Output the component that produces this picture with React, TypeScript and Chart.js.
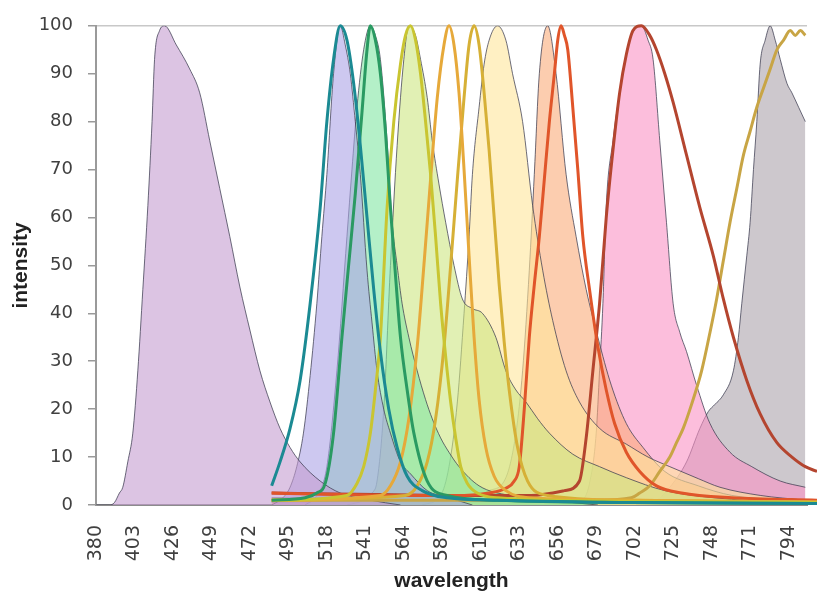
import React, { useEffect, useRef } from "react";
import { Chart, registerables } from "chart.js";
Chart.register(...registerables);

// ---- axis ticks ----
const xTickLabels = [380, 403, 426, 449, 472, 495, 518, 541, 564, 587, 610, 633, 656, 679, 702, 725, 748, 771, 794];
const yTickValues = [0, 10, 20, 30, 40, 50, 60, 70, 80, 90, 100];

// ---- excitation spectra (thick lines) ----
const tealWl = [485, 490, 496, 502, 508, 514, 518, 522, 526, 530, 534, 538, 542, 546, 550, 555, 560, 566, 575, 590, 620, 700, 811];
const tealVal = [4, 9, 16, 26, 42, 62, 80, 93, 100, 97, 88, 75, 60, 45, 32, 20, 12, 6, 3, 1.5, 1, 0.5, 0.3];

const greenWl = [485, 505, 512, 517, 522, 527, 531, 535, 539, 542, 544, 547, 550, 553, 556, 559, 562, 566, 570, 578, 590, 620, 700, 811];
const greenVal = [1, 1.5, 2.5, 4.5, 15, 35, 50, 65, 82, 95, 100, 97, 90, 78, 62, 48, 35, 24, 15, 5, 2, 1, 0.5, 0.3];

const yellowWl = [485, 530, 536, 540, 544, 547, 550, 554, 558, 562, 565, 568, 571, 574, 577, 580, 583, 586, 589, 592, 595, 598, 602, 608, 620, 700, 811];
const yellowVal = [1, 2, 4.5, 8, 15, 24, 35, 62, 80, 92, 98, 100, 97, 90, 80, 69, 56, 42, 31, 21.5, 14, 8, 4.5, 2.5, 1.5, 0.8, 0.5];

const amberWl = [485, 550, 556, 562, 567, 572, 576, 580, 584, 588, 591, 594, 597, 600, 603, 606, 609, 613, 618, 625, 640, 700, 811];
const amberVal = [1, 2, 4, 9, 18, 33, 50, 68, 85, 96, 100, 96, 86, 70, 52, 35, 22, 12, 6, 3, 1.5, 1, 0.6];

const goldWl = [485, 565, 572, 578, 583, 588, 592, 596, 600, 603, 606, 609, 612, 615, 618, 621, 624, 627, 632, 638, 650, 700, 811];
const goldVal = [1, 2, 4, 9, 18, 33, 50, 68, 85, 96, 100, 96, 86, 74, 60, 46, 34, 24, 12, 5, 2, 1, 0.6];

const orangeRedWl = [485, 560, 600, 615, 625, 630, 633, 636, 639, 642, 645, 648, 651, 654, 656, 658, 660, 662, 665, 668, 671, 675, 680, 685, 690, 697, 705, 715, 730, 760, 811];
const orangeRedVal = [2.5, 2, 2, 2.5, 3.5, 5, 8, 20, 35, 46, 56, 68, 80, 90, 97, 100, 98, 95, 83, 70, 56, 45, 33, 24, 17, 11, 7, 4, 2.5, 1.5, 1];

const darkRedWl = [485, 600, 640, 660, 669, 673, 677, 681, 685, 689, 693, 697, 701, 706, 711, 715, 720, 725, 733, 741, 749, 755, 761, 769, 777, 787, 796, 804, 811];
const darkRedVal = [2.5, 2, 2, 3, 5, 14, 28, 42, 60, 74, 86, 94, 99, 100, 98, 95, 90, 84, 73, 62, 52, 43, 35, 26, 19, 13, 10, 8, 7];

const oliveWl = [485, 640, 680, 700, 705, 711, 717, 723, 727, 731, 736, 742, 747, 751, 755, 759, 763, 767, 771, 775, 779, 783, 787, 791, 795, 798, 801, 804];
const oliveVal = [1, 1, 1, 1.5, 2.5, 4, 7, 10, 13, 16, 21, 28, 36, 43, 51, 59, 66, 73, 78, 83, 87, 91, 95, 97, 99, 98, 99, 98];

// ---- emission spectra (filled areas) ----
const purpleWl = [380, 388, 391, 394, 396, 399, 402, 405, 408, 411, 413.5, 415, 418, 421, 428, 436, 442, 448, 454, 460, 466, 472, 478, 484, 490, 496, 502, 514, 526, 544, 562];
const purpleVal = [0, 0, 0.5, 2.5, 3.7, 9, 15, 28, 45, 62.5, 80, 93, 99, 100, 96, 91, 86, 76, 66, 56, 45.5, 36.5, 28, 21.5, 16, 12, 9, 5, 2.5, 1, 0];

const lavenderWl = [485, 490, 493, 496, 500, 504, 508, 512, 515, 518, 522, 526, 529, 532, 535, 538, 542, 545, 548, 552, 556, 562, 568, 578, 591, 605];
const lavenderVal = [0, 1, 2, 3.7, 8, 15, 27, 42, 56, 69, 90, 100, 96, 90, 80, 69, 49, 38, 28, 20, 15, 9, 6.5, 3, 1.5, 0];

const mintWl = [505, 512, 518, 524, 530, 533, 536, 540, 544, 547, 550, 554, 557, 560, 563, 567, 572, 577, 581, 586, 591, 597, 609, 627, 651, 680];
const mintVal = [0, 2, 8, 28, 56, 70, 83, 95, 100, 98, 93, 76, 59, 50, 42, 35, 28, 22, 18, 14, 11, 8, 4, 2, 1, 0];

const limeWl = [530, 540, 545, 548, 552, 556, 560, 564, 567, 571, 574, 578, 581, 585, 589, 594, 599, 605, 611, 619, 625, 631, 637, 644, 651, 665, 681, 697, 720, 750, 790];
const limeVal = [0, 1, 2.5, 5, 20, 50, 75, 93, 100, 98, 93, 85, 76, 67, 59, 50, 43, 41, 40, 35, 28, 24, 21.5, 18, 15, 10.6, 8, 5.7, 3, 1.5, 0.5];

const creamWl = [575, 586, 591, 596, 600, 603, 605, 609, 612, 615, 620, 625, 629, 635, 641, 647, 653, 661, 669, 681, 697, 710, 723, 740, 753, 777, 804];
const creamVal = [0, 2, 8, 21.5, 40, 56, 69, 83, 92, 97, 100, 97, 90, 80, 62.5, 49, 38.5, 28, 21.5, 16, 12.7, 10, 8, 5.5, 3.7, 2, 1];

const peachWl = [485, 600, 615, 625, 631, 635, 639, 642, 645, 650, 655, 661, 667, 673, 680, 688, 697, 707, 720, 740, 760, 790, 804];
const peachVal = [1.5, 1.5, 3, 5.7, 15, 28, 49, 69, 90, 100, 90, 69, 56, 45, 35, 25, 17, 12, 7, 4, 2, 1, 0.5];

const pinkWl = [485, 650, 670, 675, 679, 681, 683, 685, 689, 693, 699, 706, 710, 713, 717, 721, 725, 729, 733, 739, 747, 759, 772, 789, 804];
const pinkVal = [0.5, 0.5, 1, 4.5, 15, 28, 42, 62.5, 76, 86, 97, 100, 97, 93, 76, 59, 42, 36, 32, 25, 17, 11, 8, 5, 3.7];

const greyWl = [700, 715, 723, 733, 741, 746, 750, 755, 761, 764, 766, 769, 771, 773, 775, 777, 780, 783, 786, 789, 793, 796, 800, 804];
const greyVal = [0, 1, 3.7, 9, 16, 19.5, 21, 23, 28, 35, 42, 52, 59, 70, 80, 92, 97, 100, 97, 93, 88, 86, 83, 80];

function pts(wl: number[], val: number[]) {
  return wl.map((x, i) => ({ x, y: val[i] }));
}

function line(wl: number[], val: number[], color: string) {
  return {
    data: pts(wl, val),
    borderColor: color,
    borderWidth: 3,
    fill: false,
    pointRadius: 0,
    order: 0,
    clip: false,
  } as any;
}

function area(wl: number[], val: number[], fillColor: string) {
  return {
    data: pts(wl, val),
    borderColor: "rgba(60,60,80,0.75)",
    borderWidth: 1,
    backgroundColor: fillColor,
    fill: "origin",
    pointRadius: 0,
    order: 1,
  } as any;
}

export default function App() {
  const ref = useRef<HTMLCanvasElement>(null);

  useEffect(() => {
    const datasets = [
      line(tealWl, tealVal, "#1b8a93"),
      line(greenWl, greenVal, "#2a9a62"),
      line(yellowWl, yellowVal, "#c9c531"),
      line(amberWl, amberVal, "#e6a93a"),
      line(goldWl, goldVal, "#d6b036"),
      line(orangeRedWl, orangeRedVal, "#e0552a"),
      line(darkRedWl, darkRedVal, "#b4452f"),
      line(oliveWl, oliveVal, "#c8a545"),
      area(purpleWl, purpleVal, "rgba(196,156,208,0.6)"),
      area(lavenderWl, lavenderVal, "rgba(172,163,230,0.6)"),
      area(mintWl, mintVal, "rgba(130,230,163,0.6)"),
      area(limeWl, limeVal, "rgba(205,230,130,0.6)"),
      area(creamWl, creamVal, "rgba(255,230,155,0.6)"),
      area(peachWl, peachVal, "rgba(250,172,122,0.6)"),
      area(pinkWl, pinkVal, "rgba(250,147,197,0.6)"),
      area(greyWl, greyVal, "rgba(172,163,172,0.6)"),
    ];

    const chart = new Chart(ref.current as HTMLCanvasElement, {
      type: "line",
      data: { datasets },
      options: {
        animation: false,
        responsive: false,
        layout: { padding: { left: 5, right: 10, top: 17, bottom: 0 } },
        plugins: { legend: { display: false }, tooltip: { enabled: false } },
        elements: { line: { cubicInterpolationMode: "monotone" }, point: { radius: 0 } },
        scales: {
          x: {
            type: "linear",
            min: 380,
            max: 805,
            afterBuildTicks: (axis: any) => {
              axis.ticks = xTickLabels.map((v) => ({ value: v }));
            },
            afterFit: (scale: any) => {
              scale.height = 93;
              scale.paddingLeft = 0;
              scale.paddingRight = 0;
            },
            grid: { display: false },
            border: { display: true, color: "#8c8c8c", width: 2 },
            ticks: {
              autoSkip: false,
              minRotation: 90,
              maxRotation: 90,
              padding: 12,
              font: { family: "DejaVu Sans", size: 19 },
              color: "#404040",
            },
            title: {
              display: true,
              text: "wavelength",
              font: { family: "Liberation Sans", size: 21, weight: "bold" },
              color: "#222222",
            },
          },
          y: {
            type: "linear",
            min: 0,
            max: 100,
            afterBuildTicks: (axis: any) => {
              axis.ticks = yTickValues.map((v) => ({ value: v }));
            },
            afterFit: (scale: any) => {
              scale.width = 91;
            },
            grid: {
              color: (ctx: any) => (ctx.tick && ctx.tick.value === 100 ? "#c8c8c8" : "rgba(0,0,0,0)"),
              tickColor: "#9a9a9a",
              tickLength: 8,
              lineWidth: 1.5,
            },
            border: { display: true, color: "#9a9a9a", width: 2 },
            ticks: {
              padding: 15,
              font: { family: "DejaVu Sans", size: 18 },
              color: "#404040",
            },
            title: {
              display: true,
              text: "intensity",
              font: { family: "Liberation Sans", size: 21, weight: "bold" },
              color: "#222222",
            },
          },
        },
      } as any,
    });
    return () => chart.destroy();
  }, []);

  return (
    <canvas
      ref={ref}
      width={817}
      height={598}
      style={{ position: "absolute", left: 0, top: 0, display: "block", background: "#ffffff" }}
    />
  );
}
